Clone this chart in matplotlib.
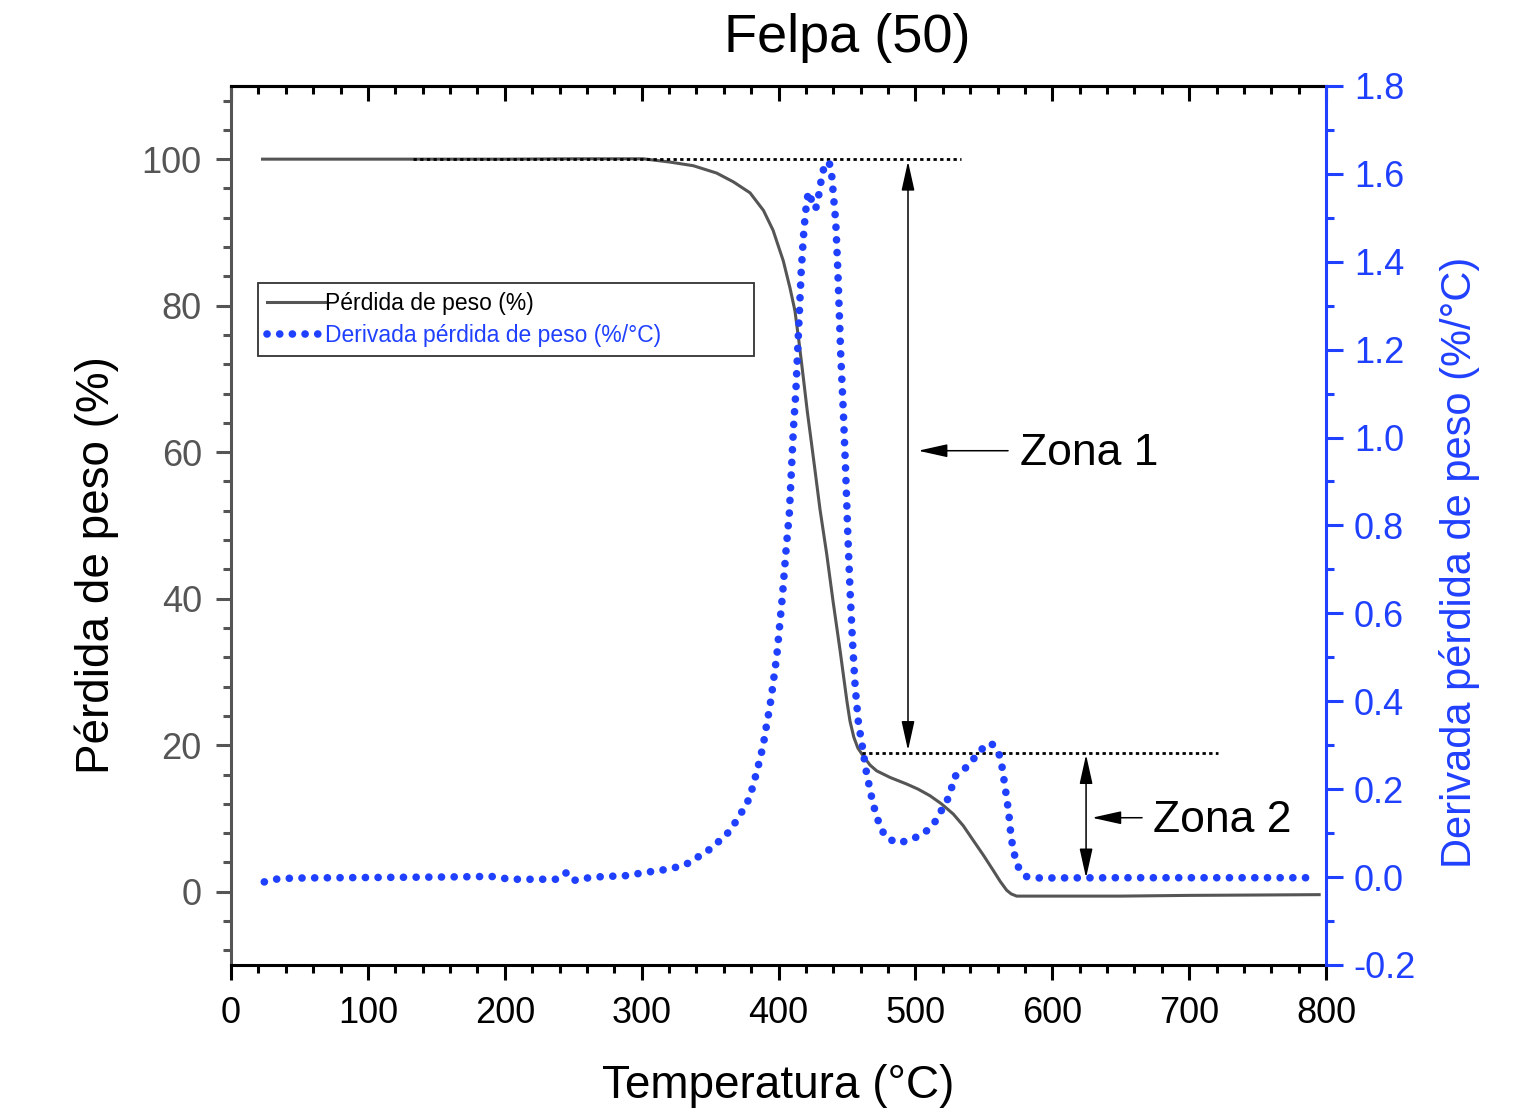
import matplotlib
matplotlib.use("Agg")
import matplotlib.pyplot as plt
from matplotlib.ticker import MultipleLocator

plt.rcParams['font.family'] = ['Liberation Sans', 'DejaVu Sans']
plt.rcParams['axes.unicode_minus'] = False

BLUE = '#2040ff'
GREY = '#555555'

# TG curve (weight loss %)
temp_tg = [23, 60, 100, 150, 200, 250, 301.2, 320.7, 337.8, 354.8, 367, 379.2, 389,
           396, 403.5, 408.4, 412, 415.2, 418.1, 421, 423.4, 426.6, 430.3, 435.2,
           439.8, 445, 449.9, 452.2, 455, 458, 462, 466.8, 471.7, 481.5, 493.6, 502,
           510.7, 519, 527.7, 535, 542.3, 550, 556.9, 562, 566.7, 570, 574, 600,
           650, 700, 750, 795]
weight = [100, 100, 100, 100, 100, 100.05, 100.05, 99.6, 99.1, 98.1, 96.9, 95.4, 93.0,
          90.3, 86.1, 82.4, 79.3, 74.7, 70.2, 65.6, 62.2, 57.6, 52.2, 46.1,
          39.7, 32.9, 26.1, 23.3, 21.1, 19.6, 18.5, 17.3, 16.5, 15.6, 14.7, 14.0,
          13.1, 12.0, 10.6, 9.0, 7.0, 4.9, 2.9, 1.4, 0.2, -0.3, -0.6, -0.6,
          -0.6, -0.5, -0.45, -0.4]

# DTG curve (%/°C)
temp_dtg = [24.3, 32, 40, 54, 100, 150, 180, 189, 204, 238.6, 245, 250.6, 254, 270.8,
            287.8, 303.7, 319.5, 327.3, 335.3, 342.2, 348.8, 354.3, 360.4, 366.3,
            370.7, 375.1, 379.2, 381.4, 383.8, 386, 388, 389.7, 391.1, 392.6, 394.1,
            395.3, 398.8, 402.8, 405.5, 407.9, 409.6, 410.9, 412.6, 413.8, 416.5,
            418.1, 419.6, 420.6, 421.8, 424.5, 427.1, 429.1, 430.5, 432, 434.2,
            437.1, 438.8, 440.3, 441.8, 443.3, 445.4, 447.4, 449.1, 450.6, 452.3,
            454, 456, 458.4, 461.3, 464, 467.5, 469.5, 471.9, 474.6, 479.3, 488,
            496.3, 502.6, 509, 514.6, 518.9, 523.3, 526.3, 528.2, 533.8, 538.7,
            543.3, 548.9, 555.4, 560.8, 563, 565.6, 568.1, 569.8, 571.1, 573,
            575.7, 581.3, 589.8, 600, 650, 700, 750, 791]
deriv = [-0.011, -0.005, -0.003, -0.002, -0.001, 0.0, 0.001, 0.002, -0.005, -0.005,
         0.01, -0.008, -0.004, 0.001,
         0.003, 0.011, 0.018, 0.024, 0.033, 0.048, 0.061, 0.076, 0.091, 0.113,
         0.137, 0.157, 0.183, 0.209, 0.236, 0.263, 0.289, 0.316, 0.343, 0.369, 0.397,
         0.423, 0.505, 0.638, 0.744, 0.828, 0.937, 1.021, 1.101, 1.184, 1.374,
         1.453, 1.509, 1.534, 1.559, 1.537, 1.520, 1.546, 1.573, 1.600, 1.625,
         1.625, 1.599, 1.544, 1.491, 1.383, 1.192, 1.055, 0.919, 0.782, 0.649,
         0.539, 0.433, 0.350, 0.296, 0.242, 0.189, 0.162, 0.137, 0.111, 0.088, 0.077,
         0.086, 0.093, 0.107, 0.127, 0.151, 0.175, 0.201, 0.227, 0.242, 0.253,
         0.272, 0.292, 0.305, 0.284, 0.257, 0.203, 0.149, 0.095, 0.069, 0.043,
         0.019, 0.001, -0.002, -0.002, -0.0015, -0.0015, -0.0015, -0.0015]

fig = plt.figure(figsize=(15.21, 11.17), dpi=100)
ax = fig.add_axes([0.1519, 0.1361, 0.7199, 0.7870])
ax2 = ax.twinx()

l1, = ax.plot(temp_tg, weight, color=GREY, lw=2.2, solid_joinstyle='round',
              label='Pérdida de peso (%)')
l2, = ax2.plot(temp_dtg, deriv, color=BLUE, lw=5.5, linestyle=(0, (0.01, 1.65)),
               dash_capstyle='round', label='Derivada pérdida de peso (%/°C)')

ax.set_xlim(0, 800)
ax.set_ylim(-10, 110)
ax2.set_ylim(-0.2, 1.8)

ax.xaxis.set_major_locator(MultipleLocator(100))
ax.xaxis.set_minor_locator(MultipleLocator(20))
ax.set_yticks([0, 20, 40, 60, 80, 100])
ax.yaxis.set_minor_locator(MultipleLocator(4))
ax2.yaxis.set_major_locator(MultipleLocator(0.2))
ax2.yaxis.set_minor_locator(MultipleLocator(0.1))

for sp in ['top', 'bottom']:
    ax.spines[sp].set_linewidth(2.2)
    ax.spines[sp].set_color('black')
ax.spines['left'].set_linewidth(2.2)
ax.spines['left'].set_color(GREY)
ax2.spines['right'].set_linewidth(2.2)
ax2.spines['right'].set_color(BLUE)
ax2.spines['left'].set_visible(False)
ax2.spines['top'].set_visible(False)
ax2.spines['bottom'].set_visible(False)

ax.tick_params(axis='x', which='both', bottom=True, top=False, direction='out',
               width=2.2, labelsize=26, pad=11, colors='black')
ax.tick_params(axis='x', which='major', length=11)
ax.tick_params(axis='x', which='minor', length=6)
ax.tick_params(axis='y', which='both', direction='out', width=2.2, color=GREY,
               labelcolor=GREY, labelsize=26, pad=10, right=False)
ax.tick_params(axis='y', which='major', length=11)
ax.tick_params(axis='y', which='minor', length=5.5)
ax2.tick_params(axis='y', which='both', direction='out', width=2.2, color=BLUE,
                labelcolor=BLUE, labelsize=26, pad=8)
ax2.tick_params(axis='y', which='major', length=12)
ax2.tick_params(axis='y', which='minor', length=6)

# top ticks point inward
top = ax.secondary_xaxis('top')
top.xaxis.set_major_locator(MultipleLocator(100))
top.xaxis.set_minor_locator(MultipleLocator(20))
top.tick_params(axis='x', which='both', direction='in', width=2.2, labeltop=False)
top.tick_params(axis='x', which='major', length=11)
top.tick_params(axis='x', which='minor', length=6)
top.spines['top'].set_linewidth(2.2)

ax.set_xlabel('Temperatura (°C)', fontsize=33, labelpad=24)
ax.set_ylabel('Pérdida de peso (%)', fontsize=33)
ax.yaxis.set_label_coords(-0.1023, 0.455)
ax2.set_ylabel('Derivada pérdida de peso (%/°C)', fontsize=30, color=BLUE)
ax2.yaxis.set_label_coords(1.103, 0.4585)
fig.text(847 / 1521, 1 - 38 / 1117, 'Felpa (50)', fontsize=39, ha='center', va='center')

# reference lines
ref_ls = (0, (1.2, 1.2))
ax.plot([133, 533], [100, 100], color='black', lw=2, linestyle=ref_ls)
ax.plot([461, 721], [19, 19], color='black', lw=2, linestyle=ref_ls)

arrow_kw = dict(arrowstyle='<|-|>,head_length=1.8,head_width=0.4', color='black',
                lw=1.1, mutation_scale=10, shrinkA=0, shrinkB=0)
ax.annotate('', xy=(494.6, 99.7), xytext=(494.6, 19.3), arrowprops=arrow_kw)
ax.annotate('', xy=(624.7, 18.7), xytext=(624.7, 1.9), arrowprops=arrow_kw)

one_kw = dict(arrowstyle='-|>,head_length=1.8,head_width=0.4', color='black', lw=1.1,
              mutation_scale=10, shrinkA=0, shrinkB=0)
ax.annotate('', xy=(502, 60.2), xytext=(567.7, 60.2), arrowprops=one_kw)
ax.annotate('', xy=(629, 10.1), xytext=(665.6, 10.1), arrowprops=one_kw)
ax.text(576.5, 59.8, 'Zona 1', fontsize=32, va='center', ha='left')
ax.text(673.6, 9.7, 'Zona 2', fontsize=32, va='center', ha='left')

leg = ax2.legend([l1, l2], [l1.get_label(), l2.get_label()],
                 loc='upper left', bbox_to_anchor=(0.0247, 0.6985, 0.453, 0.0775),
                 mode='expand', fontsize=16.5, frameon=True, fancybox=False,
                 handlelength=2.5, handletextpad=0.0, borderaxespad=0,
                 labelspacing=0.4, borderpad=0.4)
leg.get_frame().set_edgecolor('black')
leg.get_frame().set_linewidth(1.3)
leg.get_texts()[0].set_color('black')
leg.get_texts()[1].set_color(BLUE)

fig.savefig('out.png', dpi=100)
